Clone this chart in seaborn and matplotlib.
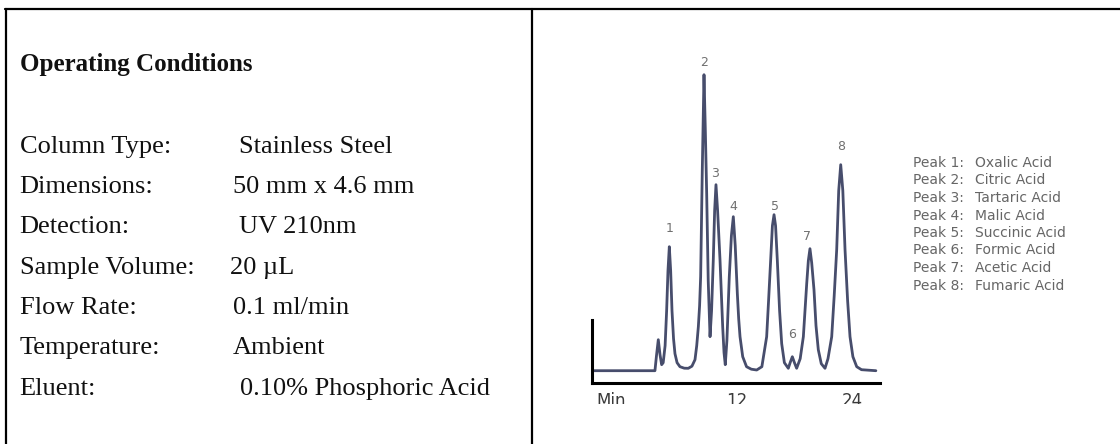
import matplotlib
matplotlib.use("Agg")
import matplotlib.pyplot as plt
import seaborn as sns
import pandas as pd
from matplotlib.lines import Line2D

# Operating conditions (left panel)
condition_labels = ["Column Type:", "Dimensions:", "Detection:", "Sample Volume:",
                    "Flow Rate:", "Temperature:", "Eluent:"]
condition_values = ["Stainless Steel", "50 mm x 4.6 mm", "UV 210nm", "20 µL",
                    "0.1 ml/min", "Ambient", "0.10% Phosphoric Acid"]

# Peaks
peak_numbers = [1, 2, 3, 4, 5, 6, 7, 8]
peak_compounds = ["Oxalic Acid", "Citric Acid", "Tartaric Acid", "Malic Acid",
                  "Succinic Acid", "Formic Acid", "Acetic Acid", "Fumaric Acid"]
peak_times = [4.94, 8.56, 9.81, 11.62, 15.87, 17.78, 19.62, 22.83]
peak_heights = [124, 296, 186, 154, 156, 14, 122, 206]

# detector trace (min, signal)
trace_time = [-3.13, 3.44, 3.60, 3.79, 3.97, 4.14, 4.30, 4.50, 4.66, 4.80, 4.94,
              5.08, 5.22, 5.38, 5.53, 5.75, 6.05, 6.50, 6.92, 7.30, 7.62, 7.80,
              7.97, 8.10, 8.21, 8.38, 8.56, 8.70, 8.84, 9.00, 9.19, 9.35, 9.53,
              9.67, 9.81, 9.98, 10.23, 10.38, 10.51, 10.65, 10.78, 10.95, 11.20,
              11.42, 11.62, 11.82, 12.04, 12.18, 12.32, 12.60, 13.00, 13.50, 14.06,
              14.60, 15.10, 15.30, 15.52, 15.70, 15.87, 16.03, 16.21, 16.45, 16.67,
              16.95, 17.36, 17.55, 17.78, 18.00, 18.23, 18.60, 18.93, 19.28, 19.45,
              19.62, 19.80, 20.04, 20.25, 20.49, 20.80, 21.19, 21.50, 21.89, 22.15,
              22.41, 22.62, 22.83, 23.05, 23.28, 23.55, 23.80, 24.10, 24.50, 25.00,
              26.50]
trace_signal = [0, 0, 15, 31, 16, 6, 8, 25, 60, 100, 124,
                100, 60, 32, 17, 8, 4, 2.5, 2.4, 4.5, 11, 25,
                44, 65, 94, 200, 296, 240, 177, 90, 34, 60, 111,
                160, 186, 160, 111, 75, 44, 18, 6, 30, 94,
                135, 154, 125, 77, 52, 34, 14, 4, 1.5, 0.7,
                4, 34, 70, 111, 145, 156, 145, 111, 60, 27,
                8, 2.4, 8, 14, 8, 2.4, 12, 34, 87, 110,
                122, 108, 81, 45, 21, 7, 2.4, 12, 34, 75,
                121, 180, 206, 180, 121, 70, 34, 14, 4, 1,
                0]

trace = pd.DataFrame({"time": trace_time, "signal": trace_signal})

sns.set_style("white")
W, H = 1120, 444
fig = plt.figure(figsize=(W / 100, H / 100), dpi=100)


def fx(px):
    return px / W


def fy(py):
    return 1 - py / H


# table borders
border = dict(color="black", linewidth=1.6, transform=fig.transFigure)
fig.add_artist(Line2D([fx(5), 1], [fy(9), fy(9)], **border))
fig.add_artist(Line2D([fx(5.5), fx(5.5)], [0, fy(9)], **border))
fig.add_artist(Line2D([fx(532), fx(532)], [0, fy(9)], **border))

# left panel text
serif = ["Liberation Serif", "DejaVu Serif"]
fig.text(fx(19.6), fy(71), "Operating Conditions", family=serif, fontsize=18,
         fontweight="bold", va="baseline", color="#111111")
label_baselines = [152.7, 192.7, 233, 274, 314, 354, 395]
value_x = [238.6, 233, 238.6, 230, 233, 233, 240]
for lab, val, yb, vx in zip(condition_labels, condition_values, label_baselines, value_x):
    fig.text(fx(19.6), fy(yb), lab, family=serif, fontsize=19, va="baseline", color="#111111")
    fig.text(fx(vx), fy(yb), val, family=serif, fontsize=19, va="baseline", color="#111111")

# chromatogram
ax = fig.add_axes([fx(592), fy(404), fx(880 - 592), (404 - 60) / H])
sns.lineplot(data=trace, x="time", y="signal", ax=ax, color="#474d6c",
             linewidth=2.0, estimator=None)
ax.set_xlim(-3.13, 26.93)
ax.set_ylim(-33.3, 310.7)
ax.set_xticks([])
ax.set_yticks([])
ax.set_xlabel("")
ax.set_ylabel("")
for s in ["top", "right"]:
    ax.spines[s].set_visible(False)
ax.spines["bottom"].set_position(("data", -12.5))
ax.spines["left"].set_bounds(-12.5, 50.7)
for s in ["bottom", "left"]:
    ax.spines[s].set_linewidth(2.2)
    ax.spines[s].set_color("black")

# axis labels, cut off at the bottom like the source image
sans = ["DejaVu Sans"]
ax.text(-2.71, -35, "Min", family=sans, fontsize=12, color="#3a3a3a", ha="left",
        va="baseline", clip_on=True)
for t in [12, 24]:
    ax.text(t, -35, str(t), family=sans, fontsize=12, color="#3a3a3a", ha="center",
            va="baseline", clip_on=True)

label_offsets = [(0, 18), (0, 12), (-1, 11), (0, 10), (1, 8), (0, 22), (-3, 12), (0, 18)]
for n, t, h, off in zip(peak_numbers, peak_times, peak_heights, label_offsets):
    ax.annotate(str(n), (t, h), xytext=off, textcoords="offset pixels", ha="center",
                va="center", family=sans, fontsize=9, color="#707070")

# peak key
for i, (n, name) in enumerate(zip(peak_numbers, peak_compounds)):
    yc = 163 + 17.5 * i
    fig.text(fx(913), fy(yc), f"Peak {n}:", family=sans, fontsize=10, color="#666666",
             va="center")
    fig.text(fx(975), fy(yc), name, family=sans, fontsize=10, color="#666666", va="center")

fig.savefig("out.png", dpi=100)
